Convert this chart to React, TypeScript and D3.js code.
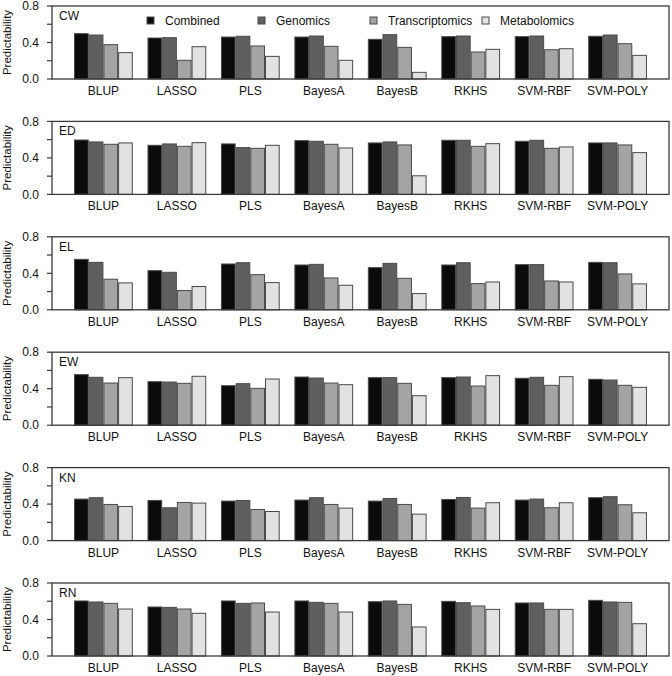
import React from 'react';
import * as d3 from 'd3';

const traits = ['CW', 'ED', 'EL', 'EW', 'KN', 'RN'];
const methods = ['BLUP', 'LASSO', 'PLS', 'BayesA', 'BayesB', 'RKHS', 'SVM-RBF', 'SVM-POLY'];
const seriesNames = ['Combined', 'Genomics', 'Transcriptomics', 'Metabolomics'];
const yTicks = [0, 0.2, 0.4, 0.6, 0.8];
const yTickLabels = ['0.0', '', '0.4', '', '0.8'];

// rows = methods, columns = Combined, Genomics, Transcriptomics, Metabolomics
const cwValues = [
  [0.497, 0.482, 0.376, 0.289],
  [0.449, 0.453, 0.205, 0.354],
  [0.46, 0.468, 0.362, 0.248],
  [0.46, 0.471, 0.358, 0.205],
  [0.435, 0.486, 0.347, 0.073],
  [0.464, 0.471, 0.296, 0.325],
  [0.464, 0.471, 0.321, 0.332],
  [0.468, 0.482, 0.387, 0.259],
];
const edValues = [
  [0.596, 0.575, 0.549, 0.564],
  [0.538, 0.553, 0.527, 0.567],
  [0.553, 0.513, 0.505, 0.538],
  [0.589, 0.582, 0.549, 0.509],
  [0.564, 0.575, 0.542, 0.204],
  [0.593, 0.593, 0.527, 0.556],
  [0.582, 0.593, 0.505, 0.52],
  [0.564, 0.564, 0.542, 0.458],
];
const elValues = [
  [0.553, 0.52, 0.335, 0.295],
  [0.429, 0.411, 0.211, 0.255],
  [0.502, 0.516, 0.385, 0.298],
  [0.491, 0.498, 0.349, 0.269],
  [0.462, 0.509, 0.345, 0.178],
  [0.491, 0.516, 0.287, 0.305],
  [0.495, 0.495, 0.316, 0.305],
  [0.52, 0.516, 0.393, 0.284],
];
const ewValues = [
  [0.554, 0.525, 0.462, 0.521],
  [0.477, 0.473, 0.459, 0.536],
  [0.433, 0.455, 0.404, 0.506],
  [0.528, 0.517, 0.462, 0.444],
  [0.521, 0.521, 0.459, 0.323],
  [0.521, 0.528, 0.429, 0.543],
  [0.514, 0.525, 0.437, 0.532],
  [0.503, 0.495, 0.437, 0.415],
];
const knValues = [
  [0.455, 0.47, 0.396, 0.374],
  [0.44, 0.36, 0.418, 0.411],
  [0.433, 0.44, 0.341, 0.319],
  [0.444, 0.47, 0.396, 0.356],
  [0.433, 0.462, 0.396, 0.29],
  [0.451, 0.473, 0.356, 0.415],
  [0.444, 0.455, 0.36, 0.415],
  [0.47, 0.481, 0.393, 0.305],
];
const rnValues = [
  [0.603, 0.592, 0.577, 0.515],
  [0.537, 0.533, 0.515, 0.468],
  [0.603, 0.577, 0.581, 0.482],
  [0.603, 0.588, 0.577, 0.482],
  [0.595, 0.603, 0.566, 0.318],
  [0.599, 0.584, 0.548, 0.511],
  [0.581, 0.581, 0.511, 0.511],
  [0.61, 0.592, 0.588, 0.354],
];
const panelValues = [cwValues, edValues, elValues, ewValues, knValues, rnValues];

const colors = ['#0b0b0b', '#5f5f5f', '#a4a4a4', '#e2e2e2'];
const FONT = '"Liberation Sans", Arial, Helvetica, sans-serif';

const W = 672;
const H = 676;
const left = 52;
const right = 669;
const firstTop = 6;
const panelStep = 115.4;
const plotH = 73;

export default function App() {
  const x0 = d3.scaleBand<string>().domain(methods).range([left, right]).paddingInner(0.2).paddingOuter(0.3);
  const x1 = d3.scaleBand<string>().domain(seriesNames).range([0, x0.bandwidth()]).padding(0);
  const y = d3.scaleLinear().domain([0, 0.8]).range([plotH, 0]);
  const legendX = [147, 258, 370, 482];

  return (
    <svg width={W} height={H} style={{ position: 'absolute', left: 0, top: 0, background: '#fff' }} fontFamily={FONT}>
      <rect x={0} y={0} width={W} height={H} fill="#fff" />
      {traits.map((trait, pi) => {
        const top = firstTop + pi * panelStep;
        const vals = panelValues[pi];
        return (
          <g key={trait} transform={`translate(0,${top})`}>
            {methods.map((m, mi) => (
              <g key={m} transform={`translate(${x0(m)},0)`}>
                {seriesNames.map((s, si) => {
                  const v = vals[mi][si];
                  return (
                    <rect
                      key={s}
                      x={x1(s)! + 0.5}
                      y={y(v)}
                      width={x1.bandwidth() - 1}
                      height={y(0) - y(v)}
                      fill={colors[si]}
                      stroke="#4a4a4a"
                      strokeWidth={1}
                    />
                  );
                })}
                <text x={x0.bandwidth() / 2} y={plotH + 16} textAnchor="middle" fontSize={12} fill="#111">
                  {m}
                </text>
              </g>
            ))}
            <rect x={left} y={0} width={right - left} height={plotH} fill="none" stroke="#3a3a3a" strokeWidth={1.3} />
            {yTicks.map((t, ti) => (
              <g key={t} transform={`translate(${left},${y(t)})`}>
                <line x1={-5} x2={0} stroke="#3a3a3a" strokeWidth={1.2} />
                {yTickLabels[ti] && (
                  <text x={-13} dy="0.35em" textAnchor="end" fontSize={12} fill="#111">
                    {yTickLabels[ti]}
                  </text>
                )}
              </g>
            ))}
            <text transform={`translate(11,${plotH / 2}) rotate(-90)`} textAnchor="middle" fontSize={11.5} fill="#111">
              Predictability
            </text>
            <text x={59} y={14} fontSize={12} fill="#111">
              {trait}
            </text>
            {pi === 0 &&
              seriesNames.map((s, si) => (
                <g key={s}>
                  <rect x={legendX[si]} y={11} width={7} height={7} fill={colors[si]} stroke="#4a4a4a" strokeWidth={1} />
                  <text x={legendX[si] + 18} y={18.5} fontSize={12} fill="#111">
                    {s}
                  </text>
                </g>
              ))}
          </g>
        );
      })}
    </svg>
  );
}
